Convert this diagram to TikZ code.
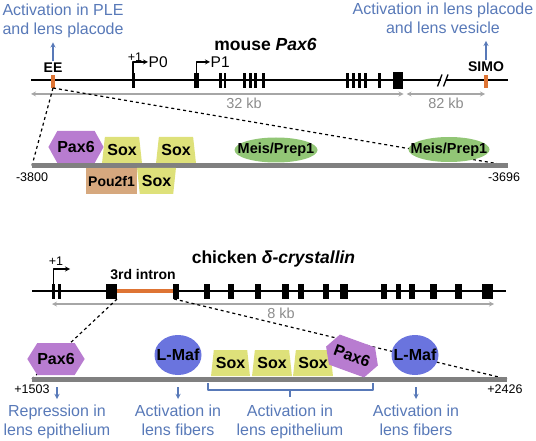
\documentclass[tikz,border=0pt]{standalone}
\usepackage{fontspec}
\setmainfont{Liberation Sans}
\usetikzlibrary{shapes.geometric,shapes.symbols}
\definecolor{actblue}{RGB}{88,121,184}
\definecolor{eorange}{RGB}{222,116,52}
\definecolor{paxpurple}{RGB}{184,124,208}
\definecolor{soxyellow}{RGB}{222,225,122}
\definecolor{meisgreen}{RGB}{146,198,118}
\definecolor{poutan}{RGB}{214,168,126}
\definecolor{mafblue}{RGB}{106,116,222}
\newcommand{\pxfont}[2]{\fontsize{#1}{#2}\selectfont}
\begin{document}
\begin{tikzpicture}[x=1pt, y=-1pt, line join=round, >=stealth,
	txt/.style={text=actblue, align=center, inner sep=0pt, anchor=north, font=\pxfont{16}{19}},
	act/.style={->, actblue, line width=1.3pt},
	brk/.style={actblue, line width=1.3pt},
	gene/.style={line width=2.5pt},
	prom/.style={->, line width=1.2pt},
	scl/.style={<->, black!35, line width=1.2pt},
	zoomline/.style={dashed, line width=1.2pt},
	enh/.style={line width=5pt, black!50},
	num/.style={font=\pxfont{12.5}{14}, inner sep=0pt},
	kb/.style={font=\pxfont{14.5}{16}, text=black!45, inner sep=0pt},
	elab/.style={font=\bfseries\pxfont{14}{16}, inner sep=1.5pt},
	fac/.style={font=\bfseries\pxfont{16}{16}, inner sep=0pt},
	hexa/.style={fac, signal, signal to=east and west, signal pointer angle=122, fill=paxpurple, minimum width=46pt, minimum height=32pt},
	soxup/.style={fac, trapezium, trapezium angle=78, trapezium stretches, fill=soxyellow, minimum width=40pt, minimum height=26pt},
	soxdn/.style={soxup, shape border rotate=180},
	meis/.style={fac, ellipse, fill=meisgreen, font=\bfseries\pxfont{14.5}{15}, inner xsep=-10pt, minimum width=83pt, minimum height=25pt},
	pou/.style={fac, rectangle, fill=poutan, font=\bfseries\pxfont{14}{15}, minimum width=51pt, minimum height=26pt},
	maf/.style={fac, ellipse, fill=mafblue, inner xsep=-6pt, minimum width=47pt, minimum height=40pt}]
	\useasboundingbox (0,0) rectangle (536,441);
	% mouse Pax6
	\node[font=\bfseries\pxfont{17.5}{20}] (mTitle) at (265.5,44) {mouse \textit{Pax6}};
	\path
	(31,80) coordinate (mL)
	(508,80) coordinate (mR)
	(53,88) coordinate (ee)
	(133,73) coordinate (tss0)
	(196.5,73) coordinate (tss1)
	(31,94) coordinate (s1)
	(403.5,94) coordinate (s2)
	(406.5,94) coordinate (s3)
	(485,94) coordinate (s4)
	(32,165.5) coordinate (aL)
	(508,165.5) coordinate (aR);
	\draw[gene] (mL) -- (mR);
	\fill[white] (440.5,74) rectangle (446,86);
	\draw[line width=1.3pt] (437.5,86.5) -- (442,74.5) (443.5,86.5) -- (448,74.5);
	\foreach \a/\b in {131.5/134.5, 194/199, 219/221.5, 223.5/226, 243/246, 248.5/251.5, 254/257, 262/265,
		346/349, 352/355, 358/361, 364/366.5, 377.5/380.5}{\fill (\a,73) rectangle (\b,88);}
	\fill (393,72) rectangle (403,89);
	\fill[eorange] (51,75) rectangle (55,88);
	\fill[eorange] (484,75) rectangle (488,88);
	\node[font=\pxfont{15.5}{16}, inner sep=0.5pt, anchor=west] (P0) at (148,62) {P0};
	\node[font=\pxfont{15.5}{16}, inner sep=0.5pt, anchor=west] (P1) at (210,62) {P1};
	\node[num] (tssA) at (135,57) {+1};
	\draw[prom] (tss0) |- (P0.west);
	\draw[prom] (tss1) |- (P1.west);
	\draw[scl] (s1) -- (s2);
	\draw[scl] (s3) -- (s4);
	\node[kb] (kb32) at (244,103) {32 kb};
	\node[kb] (kb82) at (446,103) {82 kb};
	\node[elab] (EE) at (53,68) {EE};
	\node[elab] (SIMO) at (486,67) {SIMO};
	\node[txt] (eeTxt) at (63,4) {Activation in PLE\\and lens placode};
	\node[txt] (simoTxt) at (443,2.7) {Activation in lens placode\\and lens vesicle};
	\draw[act, shorten >=4pt] (EE.north) -- (EE.north |- eeTxt.south);
	\draw[act, shorten >=7pt] (SIMO.north) -- (SIMO.north |- simoTxt.south);
	\draw[zoomline] (ee) -- (aL);
	\draw[zoomline] (ee) -- (aR);
	\draw[enh] (aL) -- (aR);
	\node[hexa] (pax6A) at (76,147) {Pax6};
	\node[soxup] (soxA1) at (122,150) {Sox};
	\node[soxup] (soxA2) at (176,150) {Sox};
	\node[meis] (meisA1) at (276,150) {Meis/Prep1};
	\node[meis, minimum width=81pt] (meisA2) at (449,149.5) {Meis/Prep1};
	\node[pou] (pouA) at (111.5,181) {Pou2f1};
	\node[soxdn, minimum width=39pt] (soxA3) at (156.5,181) {Sox};
	\node[num] (posA1) at (32,177) {-3800};
	\node[num] (posA2) at (504,177) {-3696};
	% chicken delta-crystallin
	\node[font=\bfseries\pxfont{17.5}{20}] (cTitle) at (273.5,259) {chicken \textit{δ-crystallin}};
	\path
	(32,291) coordinate (cL)
	(506,291) coordinate (cR)
	(117,291) coordinate (inL)
	(173,291) coordinate (inR)
	(117,299) coordinate (cz1)
	(174,299) coordinate (cz2)
	(53.5,284) coordinate (tss2)
	(70,269) coordinate (tss2e)
	(52,304) coordinate (s5)
	(494,304) coordinate (s6)
	(32,379) coordinate (bL)
	(507,379) coordinate (bR)
	(0,387) coordinate (bDn)
	(208,383) coordinate (brL)
	(373,383) coordinate (brR);
	\draw[gene] (cL) -- (cR);
	\draw[eorange, line width=4pt] (inL) -- (inR);
	\foreach \a/\b in {52/55, 58/61, 106/117, 173/179, 204/210, 228/234, 255/261, 282/289, 298/304, 323/329,
		340/348, 381/387, 396/401, 409/415, 430/437, 455/462, 482/493}{\fill (\a,284) rectangle (\b,299);}
	\draw[prom] (tss2) |- (tss2e);
	\node[num] (tssB) at (56,261.5) {+1};
	\node[elab] (intron) at (143,275) {3rd intron};
	\draw[scl] (s5) -- (s6);
	\node[kb] (kb8) at (281,313) {8 kb};
	\draw[zoomline] (cz1) -- (bL);
	\draw[zoomline] (cz2) -- (bR);
	\draw[enh] (bL) -- (bR);
	\node[hexa, signal pointer angle=116, minimum width=48pt] (pax6B) at (56,359) {Pax6};
	\node[maf] (mafB1) at (178,355) {L-Maf};
	\node[soxup, minimum width=39pt] (soxB1) at (230.5,363) {Sox};
	\node[soxup] (soxB2) at (272,363) {Sox};
	\node[soxup] (soxB3) at (313,363) {Sox};
	\node[hexa, rotate=-20] (pax6C) at (352,356) {Pax6};
	\node[maf] (mafB2) at (415,355) {L-Maf};
	\node[num] (posB1) at (32,389) {+1503};
	\node[num] (posB2) at (505,389) {+2426};
	\node[txt] (repTxt) at (57,405) {Repression in\\lens epithelium};
	\node[txt] (fibTxt1) at (178,405) {Activation in\\lens fibers};
	\node[txt] (epiTxt) at (290,405) {Activation in\\lens epithelium};
	\node[txt] (fibTxt2) at (416,405) {Activation in\\lens fibers};
	\draw[act, shorten >=6pt] (repTxt.north |- bDn) -- (repTxt.north);
	\draw[act, shorten >=6pt] (fibTxt1.north |- bDn) -- (fibTxt1.north);
	\draw[act, shorten >=6pt] (fibTxt2.north |- bDn) -- (fibTxt2.north);
	\draw[brk] (brL) -- ++(0,7) coordinate (brL2) -| (brR);
	\draw[brk, shorten >=1pt] (brL2 -| epiTxt.north) -- ++(0,8);
\end{tikzpicture}
\end{document}
